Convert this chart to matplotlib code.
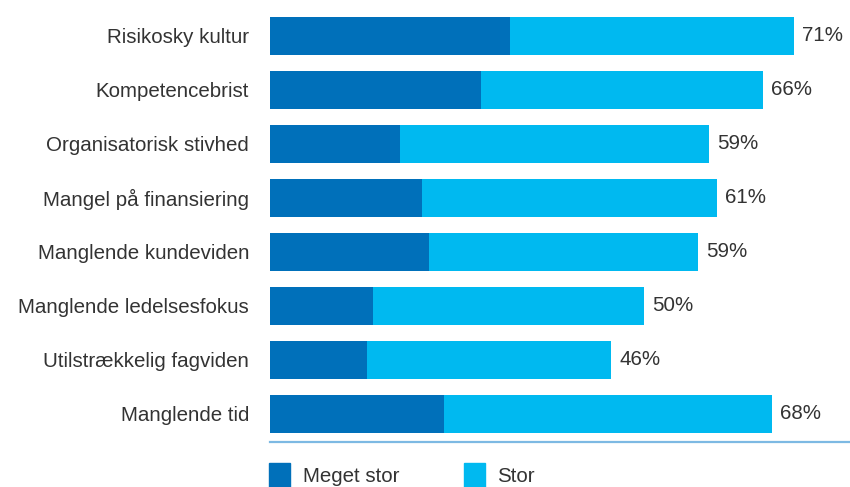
import matplotlib.pyplot as plt
from matplotlib.patches import Rectangle

# Data
categories = ["Risikosky kultur", "Kompetencebrist", "Organisatorisk stivhed",
              "Mangel på finansiering", "Manglende kundeviden",
              "Manglende ledelsesfokus", "Utilstrækkelig fagviden", "Manglende tid"]
meget_stor = [32.4, 28.5, 17.6, 20.5, 21.5, 13.9, 13.1, 23.5]
stor = [38.4, 38.1, 41.7, 39.9, 36.3, 36.6, 33.0, 44.3]
total_labels = ["71%", "66%", "59%", "61%", "59%", "50%", "46%", "68%"]

dark = "#0070ba"
light = "#00b9f0"
text_col = "#333333"
fs = 14.8

plt.rcParams['font.family'] = ['Liberation Sans', 'DejaVu Sans']

fig = plt.figure(figsize=(8.5, 4.87), dpi=100)
ax = fig.add_axes([270/850, 1 - 442/487, 1 - 270/850, (442 - 9)/487])

y = list(range(len(categories)))
ax.barh(y, meget_stor, height=0.70, color=dark)
ax.barh(y, stor, left=meget_stor, height=0.70, color=light)

for i in y:
    ax.annotate(total_labels[i], (meget_stor[i] + stor[i], i),
                xytext=(6, 0), textcoords="offset points",
                va="center", ha="left", fontsize=fs, color=text_col)

ax.set_xlim(0, 580/7.4)
ax.set_ylim(7.52, -0.5)
ax.set_yticks(y)
ax.set_yticklabels(categories, fontsize=fs, color=text_col)
ax.tick_params(axis='y', length=0, pad=15)
ax.set_xticks([])
for s in ["top", "right", "left"]:
    ax.spines[s].set_visible(False)
ax.spines["bottom"].set_color("#7db9e3")
ax.spines["bottom"].set_linewidth(1.6)

# Legend
fig.add_artist(Rectangle((269/850, 0), 21/850, 24/487, transform=fig.transFigure,
                         color=dark))
fig.text(303/850, 1 - 477/487, "Meget stor", fontsize=fs, color=text_col, va="center")
fig.add_artist(Rectangle((464/850, 0), 21/850, 24/487, transform=fig.transFigure,
                         color=light))
fig.text(497/850, 1 - 477/487, "Stor", fontsize=fs, color=text_col, va="center")

fig.savefig("out.png", dpi=100)
